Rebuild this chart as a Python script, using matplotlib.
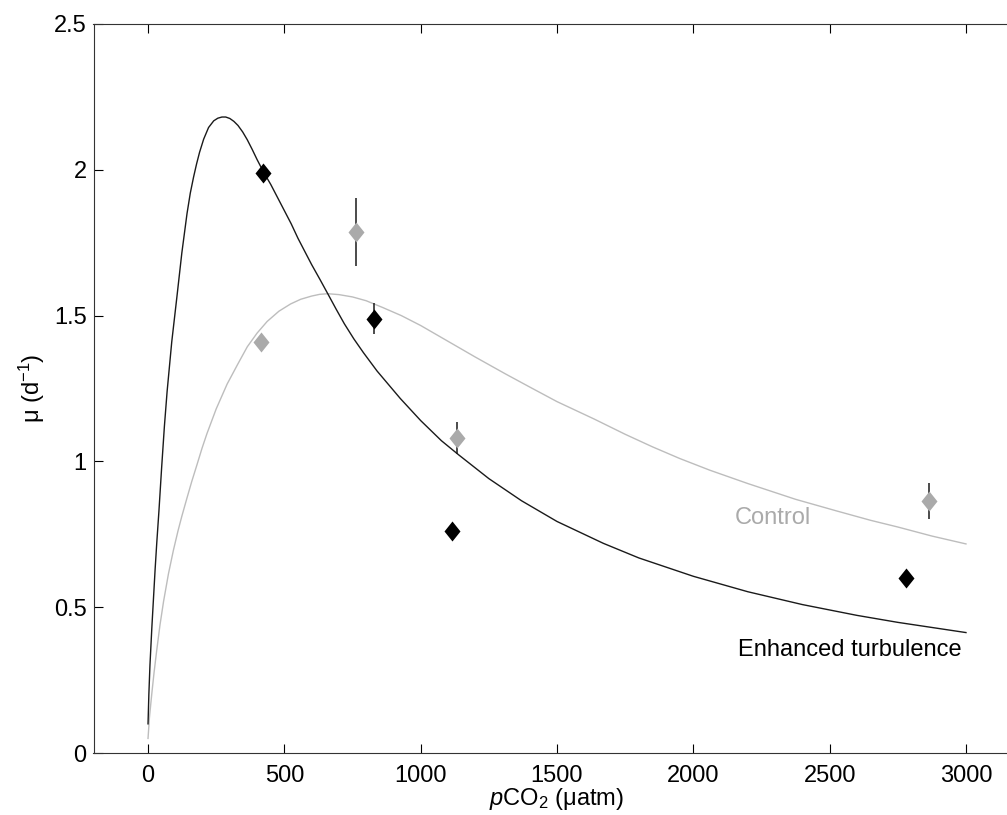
import matplotlib
matplotlib.use("Agg")
import matplotlib.pyplot as plt

plt.rcParams['font.family'] = ['Liberation Sans', 'DejaVu Sans']
plt.rcParams['mathtext.fontset'] = 'custom'
plt.rcParams['mathtext.rm'] = 'Liberation Sans'
plt.rcParams['mathtext.it'] = 'Liberation Sans:italic'

# fitted curves (pCO2 in uatm, mu in d-1)
turb_curve_x = [0, 3, 7, 14, 20, 26, 32, 40, 50, 60, 70, 87, 106, 124, 143, 155,
                167, 178, 189, 204, 222, 241, 256, 271, 285, 300, 315, 330, 347,
                364, 382, 400, 425, 450, 475, 500, 525, 550, 575, 600, 630, 661,
                690, 720, 755, 790, 840, 925, 1000, 1076, 1140, 1250, 1370, 1500,
                1670, 1800, 2000, 2200, 2400, 2600, 2750, 3000]
turb_curve_y = [0.10, 0.20, 0.30, 0.43, 0.53, 0.63, 0.72, 0.83, 0.98, 1.12, 1.24,
                1.41, 1.565, 1.715, 1.85, 1.92, 1.975, 2.02, 2.06, 2.105, 2.145,
                2.168, 2.177, 2.181, 2.181, 2.176, 2.166, 2.152, 2.13, 2.103,
                2.07, 2.035, 1.99, 1.95, 1.905, 1.86, 1.815, 1.765, 1.72, 1.675,
                1.625, 1.572, 1.522, 1.472, 1.42, 1.373, 1.31, 1.216, 1.14,
                1.071, 1.022, 0.941, 0.865, 0.794, 0.719, 0.669, 0.606, 0.553,
                0.509, 0.472, 0.448, 0.413]

ctrl_curve_x = [0, 5, 14, 22, 32, 44, 57, 75, 93, 110, 124, 143, 160, 180, 198,
                216, 250, 290, 330, 364, 400, 437, 480, 523, 560, 600, 630, 660,
                700, 750, 800, 860, 929, 1000, 1113, 1200, 1311, 1400, 1500, 1637,
                1750, 1850, 1950, 2060, 2200, 2375, 2526, 2650, 2750, 2875, 3000]
ctrl_curve_y = [0.05, 0.12, 0.205, 0.275, 0.353, 0.44, 0.52, 0.615, 0.695, 0.762,
                0.812, 0.875, 0.93, 0.99, 1.045, 1.095, 1.18, 1.265, 1.335, 1.393,
                1.44, 1.48, 1.515, 1.54, 1.556, 1.567, 1.573, 1.575, 1.572, 1.564,
                1.551, 1.528, 1.50, 1.466, 1.405, 1.358, 1.30, 1.255, 1.205, 1.145,
                1.093, 1.05, 1.01, 0.97, 0.924, 0.87, 0.83, 0.798, 0.775, 0.744,
                0.717]

# measured growth rates
turb_x = [422, 829, 1115, 2780]
turb_mu = [1.99, 1.49, 0.76, 0.60]
turb_err = [0.02, 0.052, 0.02, 0.02]

ctrl_x = [414, 763, 1133, 2864]
ctrl_mu = [1.41, 1.787, 1.08, 0.863]
ctrl_err = [0.02, 0.117, 0.055, 0.062]

xticks = [0, 500, 1000, 1500, 2000, 2500, 3000]
yticks = [0, 0.5, 1, 1.5, 2, 2.5]
ytick_labels = ['0', '0.5', '1', '1.5', '2', '2.5']

diamond = [(-0.8, 0), (0, 1), (0.8, 0), (0, -1), (-0.8, 0)]

fig = plt.figure(figsize=(10.07, 8.15), dpi=100)
ax = fig.add_axes([93.5 / 1007, 1 - 753 / 815, 927 / 1007, 729 / 815])

ax.plot(ctrl_curve_x, ctrl_curve_y, color='#bdbdbd', lw=1.0, zorder=2)
ax.plot(turb_curve_x, turb_curve_y, color='#1a1a1a', lw=1.0, zorder=2)

ax.errorbar(ctrl_x, ctrl_mu, yerr=ctrl_err, fmt='none', ecolor='#1a1a1a',
            elinewidth=1.1, capsize=0, zorder=3)
ax.errorbar(turb_x, turb_mu, yerr=turb_err, fmt='none', ecolor='#1a1a1a',
            elinewidth=1.1, capsize=0, zorder=3)
ax.plot(ctrl_x, ctrl_mu, linestyle='none', marker=diamond, markersize=14.4,
        color='#aaaaaa', markeredgewidth=0, zorder=4)
ax.plot(turb_x, turb_mu, linestyle='none', marker=diamond, markersize=14.4,
        color='black', markeredgewidth=0, zorder=4)

ax.text(2152, 0.806, 'Control', color='#aaaaaa', fontsize=17, va='center')
ax.text(2163, 0.352, 'Enhanced turbulence', color='black', fontsize=17, va='center')

ax.set_xlim(-200, 3200)
ax.set_ylim(0, 2.5)
ax.set_xticks(xticks)
ax.set_yticks(yticks)
ax.set_yticklabels(ytick_labels)
ax.tick_params(direction='in', length=6.7, width=0.8, top=True, right=True,
               labelsize=17, colors='black')
ax.tick_params(axis='x', pad=9)
ax.tick_params(axis='y', pad=5)
for sp in ax.spines.values():
    sp.set_linewidth(0.8)
    sp.set_color('#333333')

ax.set_xlabel(r'$\mathit{p}$CO$_2$ (μatm)', fontsize=17, labelpad=-1)
ax.set_ylabel(r'μ (d$^{-1}$)', fontsize=17, labelpad=5)

fig.savefig('out.png', dpi=100)
